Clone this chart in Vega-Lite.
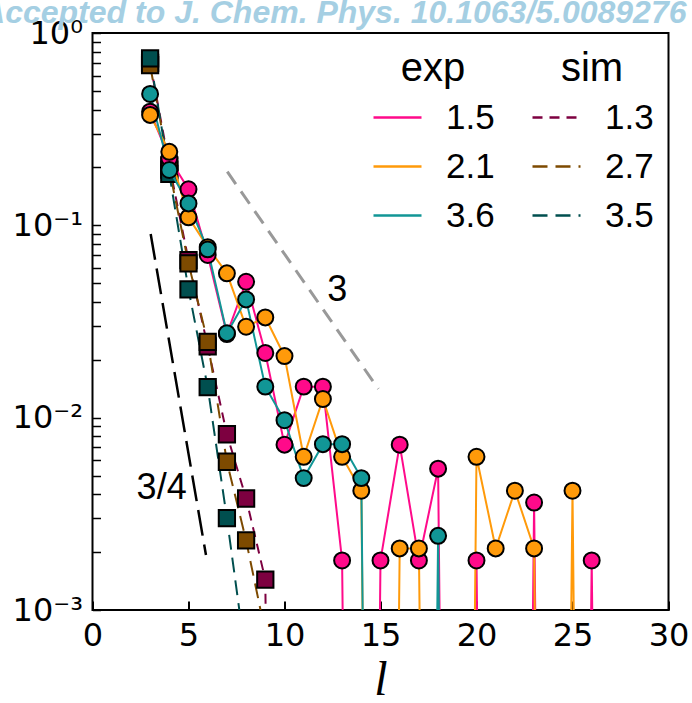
{
  "$schema": "https://vega.github.io/schema/vega-lite/v6.json",
  "autosize": {"type": "none"},
  "padding": {"left": 92.5, "top": 33, "right": 23.5, "bottom": 93},
  "width": 576,
  "height": 577,
  "title": {
    "text": "Accepted to J. Chem. Phys. 10.1063/5.0089276",
    "anchor": "end",
    "frame": "group",
    "font": "Liberation Sans",
    "fontSize": 32,
    "fontWeight": "bold",
    "fontStyle": "italic",
    "color": "#a5cfe3",
    "dx": 18,
    "dy": 19,
    "offset": 6
  },
  "datasets": {
    "pts": [
      {"kind": "sim", "s": "1.3", "l": 3, "p": 0.70},
      {"kind": "sim", "s": "1.3", "l": 4, "p": 0.205},
      {"kind": "sim", "s": "1.3", "l": 5, "p": 0.066},
      {"kind": "sim", "s": "1.3", "l": 6, "p": 0.0235},
      {"kind": "sim", "s": "1.3", "l": 7, "p": 0.0082},
      {"kind": "sim", "s": "1.3", "l": 8, "p": 0.0038},
      {"kind": "sim", "s": "1.3", "l": 9, "p": 0.00144},
      {"kind": "sim", "s": "1.3", "l": 10, "p": 1e-12},
      {"kind": "sim", "s": "2.7", "l": 3, "p": 0.68},
      {"kind": "sim", "s": "2.7", "l": 4, "p": 0.195},
      {"kind": "sim", "s": "2.7", "l": 5, "p": 0.0634},
      {"kind": "sim", "s": "2.7", "l": 6, "p": 0.0248},
      {"kind": "sim", "s": "2.7", "l": 7, "p": 0.0059},
      {"kind": "sim", "s": "2.7", "l": 8, "p": 0.0023},
      {"kind": "sim", "s": "2.7", "l": 9, "p": 0.00076},
      {"kind": "sim", "s": "3.5", "l": 3, "p": 0.738},
      {"kind": "sim", "s": "3.5", "l": 4, "p": 0.185},
      {"kind": "sim", "s": "3.5", "l": 5, "p": 0.0465},
      {"kind": "sim", "s": "3.5", "l": 6, "p": 0.0144},
      {"kind": "sim", "s": "3.5", "l": 7, "p": 0.0030},
      {"kind": "sim", "s": "3.5", "l": 8, "p": 0.00055},
      {"kind": "exp", "s": "1.5", "l": 3, "p": 0.390},
      {"kind": "exp", "s": "1.5", "l": 4, "p": 0.223},
      {"kind": "exp", "s": "1.5", "l": 5, "p": 0.154},
      {"kind": "exp", "s": "1.5", "l": 6, "p": 0.0701},
      {"kind": "exp", "s": "1.5", "l": 7, "p": 0.0272},
      {"kind": "exp", "s": "1.5", "l": 8, "p": 0.0509},
      {"kind": "exp", "s": "1.5", "l": 9, "p": 0.0217},
      {"kind": "exp", "s": "1.5", "l": 10, "p": 0.00724},
      {"kind": "exp", "s": "1.5", "l": 11, "p": 0.0145},
      {"kind": "exp", "s": "1.5", "l": 12, "p": 0.0145},
      {"kind": "exp", "s": "1.5", "l": 13, "p": 0.00181},
      {"kind": "exp", "s": "1.5", "l": 14, "p": 1e-12},
      {"kind": "exp", "s": "1.5", "l": 15, "p": 0.00181},
      {"kind": "exp", "s": "1.5", "l": 16, "p": 0.00724},
      {"kind": "exp", "s": "1.5", "l": 17, "p": 0.00181},
      {"kind": "exp", "s": "1.5", "l": 18, "p": 0.00543},
      {"kind": "exp", "s": "1.5", "l": 19, "p": 1e-12},
      {"kind": "exp", "s": "1.5", "l": 20, "p": 0.00181},
      {"kind": "exp", "s": "1.5", "l": 21, "p": 1e-12},
      {"kind": "exp", "s": "1.5", "l": 22, "p": 1e-12},
      {"kind": "exp", "s": "1.5", "l": 23, "p": 0.00362},
      {"kind": "exp", "s": "1.5", "l": 24, "p": 1e-12},
      {"kind": "exp", "s": "1.5", "l": 25, "p": 1e-12},
      {"kind": "exp", "s": "1.5", "l": 26, "p": 0.00181},
      {"kind": "exp", "s": "1.5", "l": 27, "p": 1e-12},
      {"kind": "exp", "s": "2.1", "l": 3, "p": 0.375},
      {"kind": "exp", "s": "2.1", "l": 4, "p": 0.241},
      {"kind": "exp", "s": "2.1", "l": 5, "p": 0.110},
      {"kind": "exp", "s": "2.1", "l": 6, "p": 0.077},
      {"kind": "exp", "s": "2.1", "l": 7, "p": 0.0563},
      {"kind": "exp", "s": "2.1", "l": 8, "p": 0.0297},
      {"kind": "exp", "s": "2.1", "l": 9, "p": 0.0332},
      {"kind": "exp", "s": "2.1", "l": 10, "p": 0.0209},
      {"kind": "exp", "s": "2.1", "l": 11, "p": 0.00626},
      {"kind": "exp", "s": "2.1", "l": 12, "p": 0.0125},
      {"kind": "exp", "s": "2.1", "l": 13, "p": 0.00626},
      {"kind": "exp", "s": "2.1", "l": 14, "p": 0.00417},
      {"kind": "exp", "s": "2.1", "l": 15, "p": 1e-12},
      {"kind": "exp", "s": "2.1", "l": 16, "p": 0.00209},
      {"kind": "exp", "s": "2.1", "l": 17, "p": 0.00209},
      {"kind": "exp", "s": "2.1", "l": 18, "p": 1e-12},
      {"kind": "exp", "s": "2.1", "l": 19, "p": 1e-12},
      {"kind": "exp", "s": "2.1", "l": 20, "p": 0.00626},
      {"kind": "exp", "s": "2.1", "l": 21, "p": 0.00209},
      {"kind": "exp", "s": "2.1", "l": 22, "p": 0.00417},
      {"kind": "exp", "s": "2.1", "l": 23, "p": 0.00209},
      {"kind": "exp", "s": "2.1", "l": 24, "p": 1e-12},
      {"kind": "exp", "s": "2.1", "l": 25, "p": 0.00417},
      {"kind": "exp", "s": "2.1", "l": 26, "p": 1e-12},
      {"kind": "exp", "s": "3.6", "l": 3, "p": 0.482},
      {"kind": "exp", "s": "3.6", "l": 4, "p": 0.194},
      {"kind": "exp", "s": "3.6", "l": 5, "p": 0.130},
      {"kind": "exp", "s": "3.6", "l": 6, "p": 0.075},
      {"kind": "exp", "s": "3.6", "l": 7, "p": 0.0275},
      {"kind": "exp", "s": "3.6", "l": 8, "p": 0.0412},
      {"kind": "exp", "s": "3.6", "l": 9, "p": 0.0145},
      {"kind": "exp", "s": "3.6", "l": 10, "p": 0.0097},
      {"kind": "exp", "s": "3.6", "l": 11, "p": 0.00485},
      {"kind": "exp", "s": "3.6", "l": 12, "p": 0.00728},
      {"kind": "exp", "s": "3.6", "l": 13, "p": 0.00728},
      {"kind": "exp", "s": "3.6", "l": 14, "p": 0.00485},
      {"kind": "exp", "s": "3.6", "l": 15, "p": 1e-12},
      {"kind": "exp", "s": "3.6", "l": 16, "p": 1e-12},
      {"kind": "exp", "s": "3.6", "l": 17, "p": 1e-12},
      {"kind": "exp", "s": "3.6", "l": 18, "p": 0.00243},
      {"kind": "exp", "s": "3.6", "l": 19, "p": 1e-12}
    ]
  },
  "data": {"name": "pts"},
  "layer": [
    {
      "data": {"values": [{"l": 7.02, "p": 0.190}, {"l": 14.89, "p": 0.0141}]},
      "mark": {"type": "line", "clip": true, "color": "#999999", "strokeWidth": 3, "strokeDash": [15, 9]},
      "encoding": {
        "x": {"field": "l", "type": "quantitative", "scale": {"domain": [0, 30], "nice": false},
          "axis": {"values": [0, 5, 10, 15, 20, 25, 30], "tickSize": -9, "tickWidth": 2, "tickColor": "black",
            "labelFont": "DejaVu Sans", "labelFontSize": 32, "labelColor": "black", "labelPadding": 19,
            "domain": false, "grid": false, "labelFlush": false,
            "title": "l", "titleFont": "Liberation Serif", "titleFontStyle": "italic", "titleFontWeight": "normal",
            "titleFontSize": 48, "titleColor": "black", "titlePadding": 5}},
        "y": {"field": "p", "type": "quantitative", "scale": {"type": "log", "domain": [0.001, 1], "nice": false},
          "axis": {"values": [0.001, 0.002, 0.003, 0.004, 0.005, 0.006, 0.007, 0.008, 0.009, 0.01, 0.02, 0.03, 0.04, 0.05, 0.06, 0.07, 0.08, 0.09, 0.1, 0.2, 0.3, 0.4, 0.5, 0.6, 0.7, 0.8, 0.9, 1],
            "labelExpr": "datum.value === 1 ? '10⁰' : datum.value === 0.1 ? '10⁻¹' : datum.value === 0.01 ? '10⁻²' : datum.value === 0.001 ? '10⁻³' : ''",
            "tickSize": -8, "tickWidth": 1.5, "tickColor": "black",
            "labelFont": "DejaVu Sans", "labelFontSize": 32, "labelColor": "black", "labelPadding": 18,
            "domain": false, "grid": false, "labelFlush": false, "labelOverlap": false, "title": null}}
      }
    },
    {
      "data": {"values": [{"l": 3.03, "p": 0.0901}, {"l": 5.91, "p": 0.00193}]},
      "mark": {"type": "line", "clip": true, "color": "black", "strokeWidth": 2.5, "strokeDash": [26, 9]},
      "encoding": {
        "x": {"field": "l", "type": "quantitative"},
        "y": {"field": "p", "type": "quantitative"}
      }
    },
    {
      "data": {"values": [{"txt": "3", "l": 12.75, "p": 0.0462}, {"txt": "3/4", "l": 3.6, "p": 0.0043}]},
      "mark": {"type": "text", "font": "Liberation Sans", "fontSize": 36, "color": "black", "baseline": "middle", "align": "center"},
      "encoding": {
        "x": {"field": "l", "type": "quantitative"},
        "y": {"field": "p", "type": "quantitative"},
        "text": {"field": "txt"}
      }
    },
    {
      "transform": [{"filter": "datum.kind === 'sim'"}],
      "mark": {"type": "line", "clip": true, "strokeWidth": 2},
      "encoding": {
        "x": {"field": "l", "type": "quantitative"},
        "y": {"field": "p", "type": "quantitative"},
        "color": {"field": "s", "type": "nominal",
          "scale": {"domain": ["1.3", "2.7", "3.5"], "range": ["#7d0040", "#7d4a00", "#004f4f"]},
          "legend": {"title": "sim", "orient": "none", "legendX": 438.5, "legendY": 16}},
        "strokeDash": {"field": "s", "type": "nominal",
          "scale": {"domain": ["1.3", "2.7", "3.5"], "range": [[10, 7], [15, 8], [15, 8]]},
          "legend": {"title": "sim", "orient": "none", "legendX": 438.5, "legendY": 16}}
      }
    },
    {
      "transform": [{"filter": "datum.kind === 'sim' && datum.p > 1e-6"}],
      "mark": {"type": "point", "shape": "square", "size": 265, "filled": true, "opacity": 1, "stroke": "black", "strokeWidth": 2, "clip": true},
      "encoding": {
        "x": {"field": "l", "type": "quantitative"},
        "y": {"field": "p", "type": "quantitative"},
        "fill": {"field": "s", "type": "nominal",
          "scale": {"domain": ["1.3", "2.7", "3.5", "1.5", "2.1", "3.6"], "range": ["#7d0040", "#7d4a00", "#004f4f", "#ff0a8a", "#ff9a0a", "#119696"]},
          "legend": null}
      }
    },
    {
      "transform": [{"filter": "datum.kind === 'exp'"}],
      "mark": {"type": "line", "clip": true, "strokeWidth": 2},
      "encoding": {
        "x": {"field": "l", "type": "quantitative"},
        "y": {"field": "p", "type": "quantitative"},
        "color": {"field": "s", "type": "nominal",
          "scale": {"domain": ["1.5", "2.1", "3.6"], "range": ["#ff0a8a", "#ff9a0a", "#119696"]},
          "legend": {"title": "exp", "orient": "none", "legendX": 279.5, "legendY": 16}}
      }
    },
    {
      "transform": [{"filter": "datum.kind === 'exp' && datum.p > 1e-6"}],
      "mark": {"type": "point", "shape": "circle", "size": 255, "filled": true, "opacity": 1, "stroke": "black", "strokeWidth": 2, "clip": true},
      "encoding": {
        "x": {"field": "l", "type": "quantitative"},
        "y": {"field": "p", "type": "quantitative"},
        "fill": {"field": "s", "type": "nominal",
          "scale": {"domain": ["1.3", "2.7", "3.5", "1.5", "2.1", "3.6"], "range": ["#7d0040", "#7d4a00", "#004f4f", "#ff0a8a", "#ff9a0a", "#119696"]},
          "legend": null}
      }
    }
  ],
  "resolve": {"scale": {"color": "independent", "strokeDash": "independent"}},
  "config": {
    "view": {"stroke": "black", "strokeWidth": 2},
    "font": "DejaVu Sans",
    "legend": {
      "padding": 0,
      "symbolType": "stroke",
      "symbolSize": 2304,
      "symbolStrokeWidth": 2.5,
      "labelFont": "Liberation Sans",
      "labelFontSize": 35,
      "labelColor": "black",
      "labelOffset": 23,
      "labelLimit": 300,
      "titleFont": "Liberation Sans",
      "titleFontSize": 40,
      "titleFontWeight": "normal",
      "titleColor": "black",
      "titleAnchor": "middle",
      "titlePadding": 3,
      "rowPadding": 5
    }
  }
}
